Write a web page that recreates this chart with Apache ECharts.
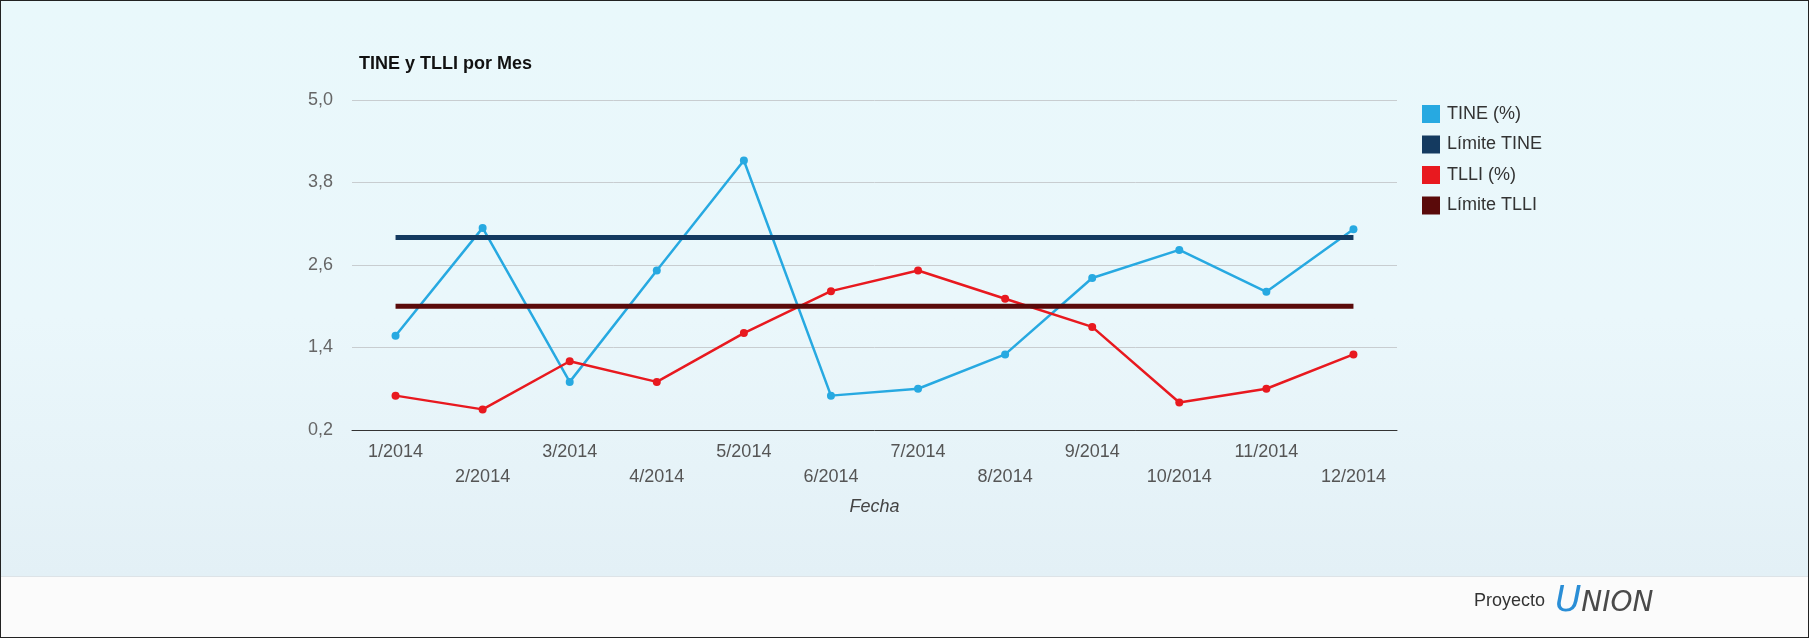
<!DOCTYPE html>
<html>
<head>
<meta charset="utf-8">
<script src="https://cdn.jsdelivr.net/npm/echarts@6/dist/echarts.min.js"></script>
<style>
  html, body { margin: 0; padding: 0; }
  #wrap {
    position: relative; width: 1809px; height: 638px; box-sizing: border-box;
    border: 1px solid #222; overflow: hidden;
    background: #fbfbfb;
  }
  #bg {
    position: absolute; left: 0; top: 0; width: 100%; height: 575px;
    background: linear-gradient(180deg, #e9f8fb 0%, #eaf7fb 55%, #e3f0f6 100%);
    border-bottom: 1px solid #dde3e7;
  }
  #chart { position: absolute; left: -1px; top: -1px; width: 1809px; height: 638px; }
</style>
</head>
<body>
<div id="wrap"><div id="bg"></div><div id="chart"></div></div>
<script>
const months = ['1/2014','2/2014','3/2014','4/2014','5/2014','6/2014','7/2014','8/2014','9/2014','10/2014','11/2014','12/2014'];
const tine = [1.57, 3.14, 0.90, 2.52, 4.12, 0.70, 0.80, 1.30, 2.41, 2.82, 2.21, 3.12];
const limiteTine = [3.0, 3.0, 3.0, 3.0, 3.0, 3.0, 3.0, 3.0, 3.0, 3.0, 3.0, 3.0];
const tlli = [0.70, 0.50, 1.20, 0.90, 1.61, 2.22, 2.52, 2.11, 1.70, 0.60, 0.80, 1.30];
const limiteTlli = [2.0, 2.0, 2.0, 2.0, 2.0, 2.0, 2.0, 2.0, 2.0, 2.0, 2.0, 2.0];
const yMin = 0.2, yMax = 5.0, yStep = 1.2;

const FONT = 'Liberation Sans, Arial, sans-serif';
const chart = echarts.init(document.getElementById('chart'), null, { renderer: 'canvas' });
chart.setOption({
  backgroundColor: 'transparent',
  animation: false,
  textStyle: { fontFamily: FONT },
  title: {
    text: 'TINE y TLLI por Mes', left: 354, top: 50,
    textStyle: { fontSize: 18, fontWeight: 'bold', color: '#111', fontFamily: FONT }
  },
  legend: {
    orient: 'vertical', left: 1417, top: 100, icon: 'rect',
    itemWidth: 18, itemHeight: 18, itemGap: 12.5,
    textStyle: { fontSize: 18, color: '#333', fontFamily: FONT, padding: [0, 0, 0, 2] },
    data: ['TINE (%)', 'Límite TINE', 'TLLI (%)', 'Límite TLLI']
  },
  grid: { left: 352, right: 412, top: 100, bottom: 208, containLabel: false },
  xAxis: {
    type: 'category', data: months, boundaryGap: true,
    axisLine: { lineStyle: { color: '#333', width: 1 } },
    axisTick: { show: false },
    axisLabel: {
      interval: 0, fontSize: 18, color: '#555', lineHeight: 25.5, margin: 9, fontFamily: FONT,
      formatter: function (v, i) { return i % 2 ? '\n' + v : v; }
    },
    name: 'Fecha', nameLocation: 'middle', nameGap: 68,
    nameTextStyle: { fontSize: 18, fontStyle: 'italic', color: '#444', fontFamily: FONT }
  },
  yAxis: {
    type: 'value', min: yMin, max: yMax, interval: yStep,
    axisLine: { show: false }, axisTick: { show: false },
    splitLine: { lineStyle: { color: '#c8cdd0', width: 1 } },
    axisLabel: {
      fontSize: 18, color: '#666', margin: 19, fontFamily: FONT,
      formatter: function (v) { return v.toFixed(1).replace('.', ','); }
    }
  },
  series: [
    { name: 'TINE (%)', type: 'line', data: tine, color: '#27a9e1',
      lineStyle: { width: 2.5 }, symbol: 'circle', symbolSize: 8 },
    { name: 'Límite TINE', type: 'line', data: limiteTine, color: '#143a60',
      lineStyle: { width: 5 }, showSymbol: false, symbol: 'none' },
    { name: 'TLLI (%)', type: 'line', data: tlli, color: '#e8191f',
      lineStyle: { width: 2.5 }, symbol: 'circle', symbolSize: 8 },
    { name: 'Límite TLLI', type: 'line', data: limiteTlli, color: '#5a0a0a',
      lineStyle: { width: 5 }, showSymbol: false, symbol: 'none' }
  ],
  graphic: [
    { type: 'text', left: 1474, top: 592, silent: true,
      style: { text: 'Proyecto', fontSize: 18, fill: '#333', fontFamily: FONT } },
    { type: 'text', left: 1555, top: 584, silent: true,
      style: {
        text: '{u|U}{n|NION}',
        rich: {
          u: { fontSize: 36, fontStyle: 'italic', fontWeight: 'normal', fill: '#2a8ed6', fontFamily: 'DejaVu Sans' },
          n: { fontSize: 28, fontStyle: 'italic', fontWeight: 200, fill: '#4a4a4a', fontFamily: 'DejaVu Sans', padding: [4, 0, 0, 0] }
        }
      } }
  ]
});
</script>
</body>
</html>
